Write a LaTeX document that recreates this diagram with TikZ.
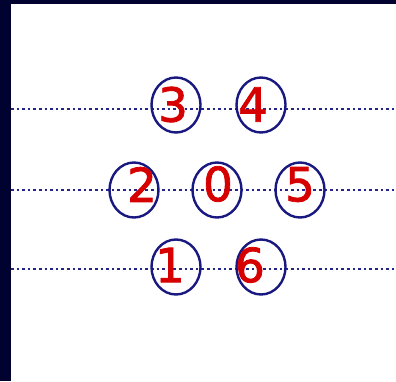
\documentclass[tikz,border=0pt]{standalone}
\usepackage{fontspec}
\setmainfont{DejaVu Sans}
\newfontfamily\digitfont[FakeBold=1.6]{DejaVu Sans}
\usetikzlibrary{calc,shapes.geometric}
\definecolor{frameNavy}{RGB}{2,2,48}
\definecolor{ringBlue}{RGB}{24,24,128}
\definecolor{dotBlue}{RGB}{36,36,140}
\definecolor{digitRed}{RGB}{215,0,0}

\begin{document}
\begin{tikzpicture}[x=1pt,y=1pt,
    ring/.style={ellipse, draw=ringBlue, line width=2.4pt, minimum width=49pt, minimum height=55pt, inner sep=0pt},
    digit/.style={text=digitRed, inner sep=0pt, font=\fontsize{47}{47}\digitfont},
    track/.style={dotBlue, line width=2.8pt, dash pattern=on 2.6pt off 3pt}]
    \useasboundingbox (0,0) rectangle (396,381);
    \fill[white] (0,0) rectangle (396,381);
    % dotted tracks
    \coordinate (t1a) at (11,272); \coordinate (t1b) at (396,272);
    \coordinate (t2a) at (11,191); \coordinate (t2b) at (396,191);
    \coordinate (t3a) at (11,112); \coordinate (t3b) at (396,112);
    \draw[track] (t1a) -- (t1b);
    \draw[track] (t2a) -- (t2b);
    \draw[track] (t3a) -- (t3b);
    % rings
    \node[ring] (r3) at (176,276) {};
    \node[ring] (r4) at (261,276) {};
    \node[ring] (r2) at (134,191) {};
    \node[ring] (r0) at (217,191) {};
    \node[ring] (r5) at (300,191) {};
    \node[ring] (r1) at (176,114) {};
    \node[ring] (r6) at (261,114) {};
    % numbers
    \node[digit] (n3) at ($(r3)+(-3,0.5)$) {3};
    \node[digit] (n4) at ($(r4)+(-8,0.5)$) {4};
    \node[digit] (n2) at ($(r2)+(8,5.5)$) {2};
    \node[digit] (n0) at ($(r0)+(1,6)$) {0};
    \node[digit] (n5) at ($(r5)+(0,5.5)$) {5};
    \node[digit] (n1) at ($(r1)+(-6,2)$) {1};
    \node[digit] (n6) at ($(r6)+(-11,2)$) {6};
    % frame
    \fill[frameNavy] (0,0) rectangle (11,381);
    \fill[frameNavy] (0,377) rectangle (396,381);
  \end{tikzpicture}
\end{document}
